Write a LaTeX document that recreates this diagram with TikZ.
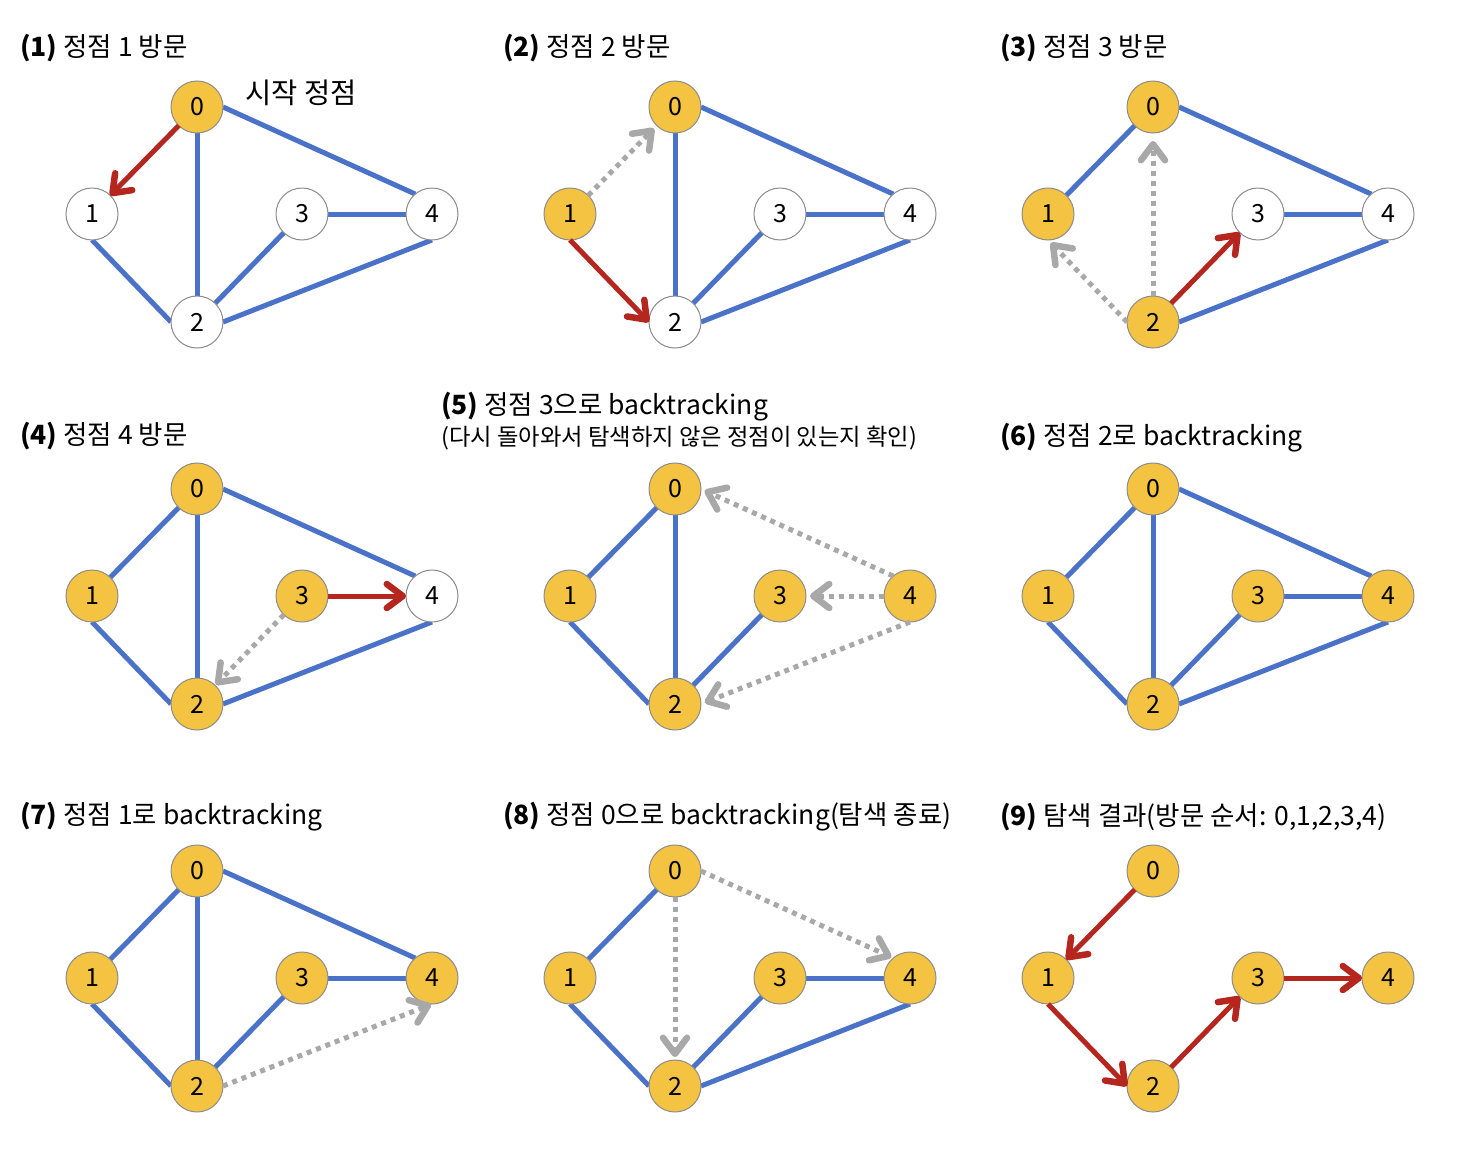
\documentclass[tikz,border=0pt]{standalone}
\usepackage{fontspec}
\setmainfont{Noto Sans CJK KR}
\usetikzlibrary{arrows.meta}
\definecolor{edgeblue}{HTML}{4A72C8}
\definecolor{visitred}{HTML}{B5261E}
\definecolor{backgray}{HTML}{A8A8A8}
\definecolor{nodeyellow}{HTML}{F5C342}
\definecolor{nodeborder}{HTML}{8C8C8C}
\pgfdeclarelayer{bg}
\pgfsetlayers{bg,main}
\tikzset{
  vnode/.style={circle, minimum size=52pt, inner sep=0pt, outer sep=0pt, draw=nodeborder, line width=1pt, font=\fontsize{25}{25}\selectfont},
  yel/.style={vnode, fill=nodeyellow},
  wht/.style={vnode, fill=white},
  bedge/.style={edgeblue, line width=5pt},
  barbtip/.style={-{Straight Barb[length=16pt,width=24pt,line width=6.5pt 0,round]}},
  redarr/.style={visitred, line width=5pt, barbtip},
  grayarr/.style={backgray, line width=5pt, dash pattern=on 5pt off 5pt, barbtip, shorten >=4pt},
  ttl/.style={anchor=west, inner sep=0pt, font=\fontsize{26.5}{26.5}\selectfont},
  sub/.style={anchor=west, inner sep=0pt, font=\fontsize{23.3}{23.3}\selectfont},
}
\newcommand\mkpanel[8]{%
  \begin{scope}[shift={(#2,#3)}]
    \node[#4] (#1n0) at (197,107) {0};
    \node[#5] (#1n1) at (92,214) {1};
    \node[#6] (#1n2) at (197,322) {2};
    \node[#7] (#1n3) at (302,214) {3};
    \node[#8] (#1n4) at (432,214) {4};
  \end{scope}}
\begin{document}
\begin{tikzpicture}[x=1pt,y=-1pt]
\useasboundingbox (0,0) rectangle (1468,1154);

% titles
\node[ttl] (t1) at (20,48) {\textbf{(1)} 정점 1 방문};
\node[ttl] (t2) at (503,48) {\textbf{(2)} 정점 2 방문};
\node[ttl] (t3) at (1000,48) {\textbf{(3)} 정점 3 방문};
\node[ttl] (t4) at (20,436) {\textbf{(4)} 정점 4 방문};
\node[ttl] (t5) at (441,407) {\textbf{(5)} 정점 3으로 backtracking};
\node[sub] (t5b) at (441,438) {(다시 돌아와서 탐색하지 않은 정점이 있는지 확인)};
\node[ttl] (t6) at (1000,438) {\textbf{(6)} 정점 2로 backtracking};
\node[ttl] (t7) at (20,817) {\textbf{(7)} 정점 1로 backtracking};
\node[ttl] (t8) at (503,817) {\textbf{(8)} 정점 0으로 backtracking(탐색 종료)};
\node[ttl] (t9) at (1000,817) {\textbf{(9)} 탐색 결과(방문 순서: 0,1,2,3,4)};
\node[ttl, font=\fontsize{28.5}{28.5}\selectfont] (start) at (245,93) {시작 정점};

% nodes
\mkpanel{a}{0}{0}{yel}{wht}{wht}{wht}{wht}
\mkpanel{b}{478}{0}{yel}{yel}{wht}{wht}{wht}
\mkpanel{c}{956}{0}{yel}{yel}{yel}{wht}{wht}
\mkpanel{d}{0}{382}{yel}{yel}{yel}{yel}{wht}
\mkpanel{e}{478}{382}{yel}{yel}{yel}{yel}{yel}
\mkpanel{f}{956}{382}{yel}{yel}{yel}{yel}{yel}
\mkpanel{g}{0}{764}{yel}{yel}{yel}{yel}{yel}
\mkpanel{h}{478}{764}{yel}{yel}{yel}{yel}{yel}
\mkpanel{i}{956}{764}{yel}{yel}{yel}{yel}{yel}

\begin{pgfonlayer}{bg}
\fill[white] (0,0) rectangle (1468,1154);
% panel 1
\draw[bedge] (an0) -- (an2);
\draw[bedge] (an0.east) -- (an4.130);
\draw[bedge] (an1.south) -- (an2.west);
\draw[bedge] (an2) -- (an3);
\draw[bedge] (an2.east) -- (an4.south);
\draw[bedge] (an3) -- (an4);
% panel 2
\draw[bedge] (bn0) -- (bn2);
\draw[bedge] (bn0.east) -- (bn4.130);
\draw[bedge] (bn2) -- (bn3);
\draw[bedge] (bn2.east) -- (bn4.south);
\draw[bedge] (bn3) -- (bn4);
% panel 3
\draw[bedge] (cn0) -- (cn1);
\draw[bedge] (cn0.east) -- (cn4.130);
\draw[bedge] (cn2.east) -- (cn4.south);
\draw[bedge] (cn3) -- (cn4);
% panel 4
\draw[bedge] (dn0) -- (dn1);
\draw[bedge] (dn0) -- (dn2);
\draw[bedge] (dn0.east) -- (dn4.130);
\draw[bedge] (dn1.south) -- (dn2.west);
\draw[bedge] (dn2.east) -- (dn4.south);
% panel 5
\draw[bedge] (en0) -- (en1);
\draw[bedge] (en0) -- (en2);
\draw[bedge] (en1.south) -- (en2.west);
\draw[bedge] (en2) -- (en3);
% panel 6
\draw[bedge] (fn0) -- (fn1);
\draw[bedge] (fn0) -- (fn2);
\draw[bedge] (fn0.east) -- (fn4.130);
\draw[bedge] (fn1.south) -- (fn2.west);
\draw[bedge] (fn2) -- (fn3);
\draw[bedge] (fn2.east) -- (fn4.south);
\draw[bedge] (fn3) -- (fn4);
% panel 7
\draw[bedge] (gn0) -- (gn1);
\draw[bedge] (gn0) -- (gn2);
\draw[bedge] (gn0.east) -- (gn4.130);
\draw[bedge] (gn1.south) -- (gn2.west);
\draw[bedge] (gn2) -- (gn3);
\draw[bedge] (gn3) -- (gn4);
% panel 8
\draw[bedge] (hn0) -- (hn1);
\draw[bedge] (hn1.south) -- (hn2.west);
\draw[bedge] (hn2) -- (hn3);
\draw[bedge] (hn2.east) -- (hn4.south);
\draw[bedge] (hn3) -- (hn4);
\end{pgfonlayer}

% arrows
\draw[redarr] (an0) -- (an1);
\draw[grayarr] (bn1) -- (bn0);
\draw[redarr] (bn1.south) -- (bn2.west);
\draw[grayarr, shorten >=8pt] (cn2) -- (cn0);
\draw[grayarr] (cn2.west) -- (cn1.south);
\draw[redarr] (cn2) -- (cn3);
\draw[grayarr, shorten >=1pt] (dn3) -- (dn2);
\draw[redarr] (dn3) -- (dn4);
\draw[grayarr] (en4.130) -- (en0.east);
\draw[grayarr] (en4) -- (en3);
\draw[grayarr] (en4.south) -- (en2.east);
\draw[grayarr, shorten >=1pt] (gn2.east) -- (gn4.south);
\draw[grayarr, shorten >=2pt] (hn0.east) -- (hn4.130);
\draw[grayarr, shorten >=3pt] (hn0) -- (hn2);
\draw[redarr] (in0) -- (in1);
\draw[redarr] (in1.south) -- (in2.west);
\draw[redarr] (in2) -- (in3);
\draw[redarr] (in3) -- (in4);
\end{tikzpicture}
\end{document}
